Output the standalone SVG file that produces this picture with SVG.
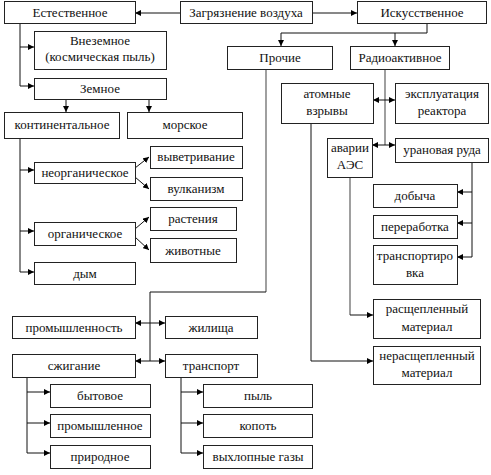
<svg xmlns="http://www.w3.org/2000/svg" width="491" height="475" viewBox="0 0 491 475" font-family="Liberation Serif, Times New Roman, serif" font-size="13">
<defs>
<marker id="ah" markerUnits="userSpaceOnUse" markerWidth="7" markerHeight="6" refX="6" refY="3" orient="auto-start-reverse">
<path d="M0,0 L6,3 L0,6 z" fill="#000"/>
</marker>
<style>
.b{fill:#fff;stroke:#222;stroke-width:1}
text{fill:#111;text-anchor:middle}
.c{fill:none;stroke:#111;stroke-width:1}
.g{fill:none;stroke:#888;stroke-width:1.6}
.a{marker-end:url(#ah)}
.d{marker-start:url(#ah);marker-end:url(#ah)}
</style>
</defs>
<rect width="491" height="475" fill="#fff"/>
<g id="connectors">
<path class="c a" d="M180,13 H135"/>
<path class="c a" d="M312,13 H357"/>
<path class="c" d="M20,23 V86"/>
<path class="c a" d="M20,47 H34"/>
<path class="c a" d="M20,86 H34"/>
<path class="c a" d="M66,99 V112"/>
<path class="c a" d="M149,99 V112"/>
<path class="c a" d="M427,23 V33 H281 V46"/>
<path class="c a" d="M395,33 V46"/>
<path class="c" d="M20,138 V272"/>
<path class="c a" d="M20,170 H34"/>
<path class="c a" d="M20,231 H34"/>
<path class="c a" d="M20,272 H34"/>
<path class="c a" d="M135,168 L149,157"/>
<path class="c a" d="M135,177 L149,189"/>
<path class="c a" d="M135,229 L149,217"/>
<path class="c a" d="M135,237 L149,250"/>
<path class="g" d="M385,69 V145"/>
<path class="c d" d="M373,100 H395"/>
<path class="c d" d="M372,145 H395"/>
<path class="c" d="M472,162 V257"/>
<path class="c a" d="M472,192 H457"/>
<path class="c a" d="M472,223 H457"/>
<path class="c a" d="M472,257 H457"/>
<path class="c a" d="M311,123 V361 H373"/>
<path class="g" d="M350,177 V315"/>
<path class="c a" d="M350,315 H373"/>
<path class="g" d="M266,69 V292"/>
<path class="c" d="M266,292 H150 V361"/>
<path class="c d" d="M135,323 H165"/>
<path class="c d" d="M135,361 H165"/>
<path class="c" d="M27,377 V453"/>
<path class="c a" d="M27,392 H50"/>
<path class="c a" d="M27,423 H50"/>
<path class="c a" d="M27,453 H50"/>
<path class="c" d="M181,377 V453"/>
<path class="c a" d="M181,392 H203"/>
<path class="c a" d="M181,423 H203"/>
<path class="c a" d="M181,453 H203"/>
</g>
<g id="n-zagr"><rect class="b" x="180.5" y="1.5" width="132" height="22"/><text x="246" y="17">Загрязнение воздуха</text></g>
<g id="n-estest"><rect class="b" x="4.5" y="1.5" width="131" height="22"/><text x="70" y="17">Естественное</text></g>
<g id="n-iskus"><rect class="b" x="357.5" y="1.5" width="129" height="22"/><text x="422" y="17">Искусственное</text></g>
<g id="n-vnezem"><rect class="b" x="34.5" y="31.5" width="132" height="38"/><text x="100" y="45">Внеземное</text><text x="100" y="61">(космическая пыль)</text></g>
<g id="n-zemnoe"><rect class="b" x="34.5" y="78.5" width="132" height="21"/><text x="100" y="93">Земное</text></g>
<g id="n-prochie"><rect class="b" x="227.5" y="46.5" width="105" height="23"/><text x="280" y="62">Прочие</text></g>
<g id="n-radio"><rect class="b" x="350.5" y="46.5" width="99" height="23"/><text x="400" y="62">Радиоактивное</text></g>
<g id="n-kont"><rect class="b" x="4.5" y="112.5" width="115" height="26"/><text x="62" y="129">континентальное</text></g>
<g id="n-morsk"><rect class="b" x="127.5" y="112.5" width="115" height="26"/><text x="185" y="129">морское</text></g>
<g id="n-atom"><rect class="b" x="281.5" y="83.5" width="92" height="40"/><text x="327" y="98">атомные</text><text x="327" y="115">взрывы</text></g>
<g id="n-ekspl"><rect class="b" x="395.5" y="83.5" width="93" height="40"/><text x="442" y="98">эксплуатация</text><text x="442" y="115">реактора</text></g>
<g id="n-avarii"><rect class="b" x="327.5" y="138.5" width="45" height="39"/><text x="350" y="152">аварии</text><text x="350" y="169">АЭС</text></g>
<g id="n-uran"><rect class="b" x="395.5" y="138.5" width="93" height="24"/><text x="442" y="154">урановая руда</text></g>
<g id="n-neorg"><rect class="b" x="34.5" y="162.5" width="101" height="21"/><text x="85" y="177">неорганическое</text></g>
<g id="n-vyvetr"><rect class="b" x="150.5" y="146.5" width="92" height="22"/><text x="196" y="161">выветривание</text></g>
<g id="n-vulk"><rect class="b" x="150.5" y="177.5" width="92" height="23"/><text x="196" y="193">вулканизм</text></g>
<g id="n-dobycha"><rect class="b" x="373.5" y="184.5" width="84" height="23"/><text x="415" y="200">добыча</text></g>
<g id="n-rast"><rect class="b" x="150.5" y="207.5" width="86" height="23"/><text x="193" y="223">растения</text></g>
<g id="n-perer"><rect class="b" x="373.5" y="215.5" width="84" height="23"/><text x="415" y="231">переработка</text></g>
<g id="n-org"><rect class="b" x="34.5" y="222.5" width="101" height="23"/><text x="85" y="238">органическое</text></g>
<g id="n-zhiv"><rect class="b" x="150.5" y="238.5" width="86" height="24"/><text x="193" y="255">животные</text></g>
<g id="n-transp1"><rect class="b" x="373.5" y="245.5" width="84" height="39"/><text x="415" y="260">транспортиро</text><text x="415" y="277">вка</text></g>
<g id="n-dym"><rect class="b" x="34.5" y="262.5" width="101" height="22"/><text x="85" y="278">дым</text></g>
<g id="n-rassch"><rect class="b" x="373.5" y="299.5" width="107" height="39"/><text x="427" y="313">расщепленный</text><text x="427" y="331">материал</text></g>
<g id="n-prom"><rect class="b" x="12.5" y="316.5" width="123" height="22"/><text x="74" y="332">промышленность</text></g>
<g id="n-zhil"><rect class="b" x="165.5" y="316.5" width="92" height="22"/><text x="211" y="332">жилища</text></g>
<g id="n-nerassch"><rect class="b" x="373.5" y="346.5" width="107" height="38"/><text x="427" y="360">нерасщепленный</text><text x="427" y="377">материал</text></g>
<g id="n-szhig"><rect class="b" x="12.5" y="354.5" width="123" height="23"/><text x="74" y="370">сжигание</text></g>
<g id="n-transport"><rect class="b" x="165.5" y="354.5" width="92" height="23"/><text x="211" y="370">транспорт</text></g>
<g id="n-byt"><rect class="b" x="50.5" y="384.5" width="100" height="23"/><text x="100" y="400">бытовое</text></g>
<g id="n-pyl"><rect class="b" x="203.5" y="384.5" width="109" height="23"/><text x="258" y="400">пыль</text></g>
<g id="n-promyshl"><rect class="b" x="50.5" y="414.5" width="100" height="23"/><text x="100" y="430">промышленное</text></g>
<g id="n-kopot"><rect class="b" x="203.5" y="414.5" width="109" height="23"/><text x="258" y="430">копоть</text></g>
<g id="n-prir"><rect class="b" x="50.5" y="445.5" width="100" height="23"/><text x="100" y="461">природное</text></g>
<g id="n-vyhl"><rect class="b" x="203.5" y="445.5" width="109" height="23"/><text x="258" y="461">выхлопные газы</text></g>
</svg>
